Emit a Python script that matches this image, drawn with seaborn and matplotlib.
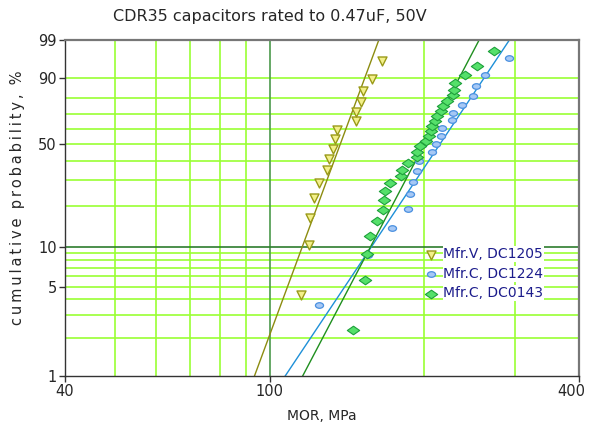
import numpy as np
import matplotlib
matplotlib.use("Agg")
import matplotlib.pyplot as plt
import seaborn as sns
from matplotlib.markers import MarkerStyle
from matplotlib.transforms import Affine2D, ScaledTranslation

sns.set_style("white")
plt.rcParams['font.family'] = ['DejaVu Sans']

# data (MOR in MPa, cumulative probability in %)
v_mor = [115.1, 119.4, 119.9, 122.0, 124.8, 129.2, 130.7, 133.1,
         134.1, 135.1, 147.3, 147.5, 150.6, 152.0, 158.5, 165.2]
v_prob = [4.3, 10.4, 16.5, 22.6, 28.7, 34.8, 40.9, 47.0,
          53.0, 59.1, 65.2, 71.3, 77.4, 83.5, 89.6, 95.7]

c1_mor = [125.0, 155.1, 173.4, 185.7, 187.6, 189.9, 193.3, 195.3, 207.3, 210.8,
          215.8, 216.8, 226.8, 227.2, 236.8, 248.5, 252.5, 262.5, 291.9]
c1_prob = [3.6, 8.8, 13.9, 19.1, 24.2, 29.4, 34.5, 39.7, 44.8, 50.0,
           55.2, 60.3, 65.5, 70.6, 75.8, 80.9, 86.1, 91.2, 96.4]

c2_mor = [145.4, 153.4, 154.9, 156.8, 161.6, 166.5, 167.0, 168.0, 171.8, 179.8,
          180.8, 185.7, 193.3, 194.0, 196.6, 202.0, 204.3, 205.7, 207.5, 209.8,
          212.2, 215.1, 217.5, 221.0, 227.0, 229.0, 230.0, 239.5, 253.0, 273.6]
c2_prob = [2.3, 5.6, 8.9, 12.2, 15.5, 18.8, 22.0, 25.3, 28.6, 31.9,
           35.2, 38.5, 41.8, 45.1, 48.4, 51.6, 54.9, 58.2, 61.5, 64.8,
           68.1, 71.4, 74.7, 78.0, 81.3, 84.5, 87.8, 91.1, 94.4, 97.7]

# Weibull fits (modulus, characteristic strength in MPa)
v_fit = (11.0, 142.0)
c1_fit = (6.1, 228.0)
c2_fit = (7.75, 210.0)

labels = ["Mfr.V, DC1205", "Mfr.C, DC1224", "Mfr.C, DC0143"]

x_grid = [50, 60, 70, 80, 90, 200, 300]
y_grid = [2, 3, 4, 5, 6, 7, 8, 9, 20, 30, 40, 50, 60, 70, 80, 90]
y_ticks = [1, 5, 10, 50, 90, 99]
x_ticks = [40, 100, 400]


def fwd(p):
    p = np.clip(np.asarray(p, dtype=float), 1e-6, 100 - 1e-9)
    return np.log(-np.log(1 - p / 100.0))


def inv(w):
    return 100.0 * (1 - np.exp(-np.exp(np.asarray(w, dtype=float))))


fig = plt.figure(figsize=(5.89, 4.28), dpi=100)
ax = fig.add_axes([65 / 589, 1 - 376 / 428, 514 / 589, 336 / 428])
ax.set_xscale("log")
ax.set_yscale("function", functions=(fwd, inv))
ax.set_xlim(40, 400)
ax.set_ylim(1, 99)

grid_c = "#99ff33"
for gx in x_grid:
    ax.axvline(gx, color=grid_c, lw=1.2, zorder=0)
for gy in y_grid:
    ax.axhline(gy, color=grid_c, lw=1.2, zorder=0)
ax.axvline(100, color="#4c9a4c", lw=1.2, zorder=0.5)
ax.axhline(10, color="#2e7d2e", lw=1.2, zorder=0.5)

# fit lines
for (m, x0), col in zip([v_fit, c1_fit, c2_fit], ["#8c8c10", "#1e90d8", "#1f8f1f"]):
    xf = np.geomspace(40, 400, 400)
    pf = 100 * (1 - np.exp(-(xf / x0) ** m))
    keep = (pf > 0.05) & (pf < 99.99)
    sns.lineplot(x=xf[keep], y=pf[keep], color=col, lw=1, ax=ax, sort=False,
                 legend=False, zorder=2)

ell = MarkerStyle("o", transform=Affine2D().scale(1.3, 0.9))
dia = MarkerStyle("D", transform=Affine2D().scale(1.15, 0.8))

h1 = ax.scatter(v_mor, v_prob, marker="v", s=42, facecolor="#f3f08a",
                edgecolor="#9a9a18", linewidth=1, zorder=3, label=labels[0])
h2 = ax.scatter(c1_mor, c1_prob, marker=ell, s=20, facecolor="#a6c8f5",
                edgecolor="#4a90e0", linewidth=0.9, zorder=3, label=labels[1])
h3 = ax.scatter(c2_mor, c2_prob, marker=dia, s=30, facecolor="#55e06a",
                edgecolor="#1ea03c", linewidth=0.8, zorder=4, label=labels[2])

leg = ax.legend(handles=[h1, h2, h3], loc="upper left",
                bbox_to_anchor=(0.685, 0.40), frameon=False, fontsize=10,
                handletextpad=0.3, labelspacing=0.4, handlelength=1.2,
                borderaxespad=0)
for t in leg.get_texts():
    t.set_color("#1c1c8c")
    t.set_bbox(dict(facecolor="white", edgecolor="none", pad=0.6))

ax.set_yticks(y_ticks)
ax.set_yticklabels([str(v) for v in y_ticks])
ax.set_yticks([], minor=True)
ax.set_xticks(x_ticks)
ax.set_xticklabels([str(v) for v in x_ticks])
ax.set_xticks([], minor=True)
ax.tick_params(axis="both", which="major", direction="out", length=4,
               width=1, labelsize=10.5, color="#333333", left=True, bottom=True,
               pad=2)
last = ax.get_xticklabels()[-1]
last.set_transform(last.get_transform() + ScaledTranslation(-8 / 100, 0, fig.dpi_scale_trans))

for side in ["left", "bottom"]:
    ax.spines[side].set_color("#333333")
    ax.spines[side].set_linewidth(1)
for side in ["top", "right"]:
    ax.spines[side].set_color("#777777")
    ax.spines[side].set_linewidth(1.6)

ax.set_xlabel("MOR, MPa", fontsize=10, labelpad=7)
ylab = "\u2009".join("cumulative") + "  " + "\u2009".join("probability,") + "  %"
fig.text(18 / 589, 1 - 198 / 428, ylab,
         rotation=90, ha="center", va="center", fontsize=10.5)
fig.text(270 / 589, 1 - 17 / 428, "CDR35 capacitors rated to 0.47uF, 50V",
         ha="center", va="center", fontsize=11.5)

fig.savefig("out.png", dpi=100)
